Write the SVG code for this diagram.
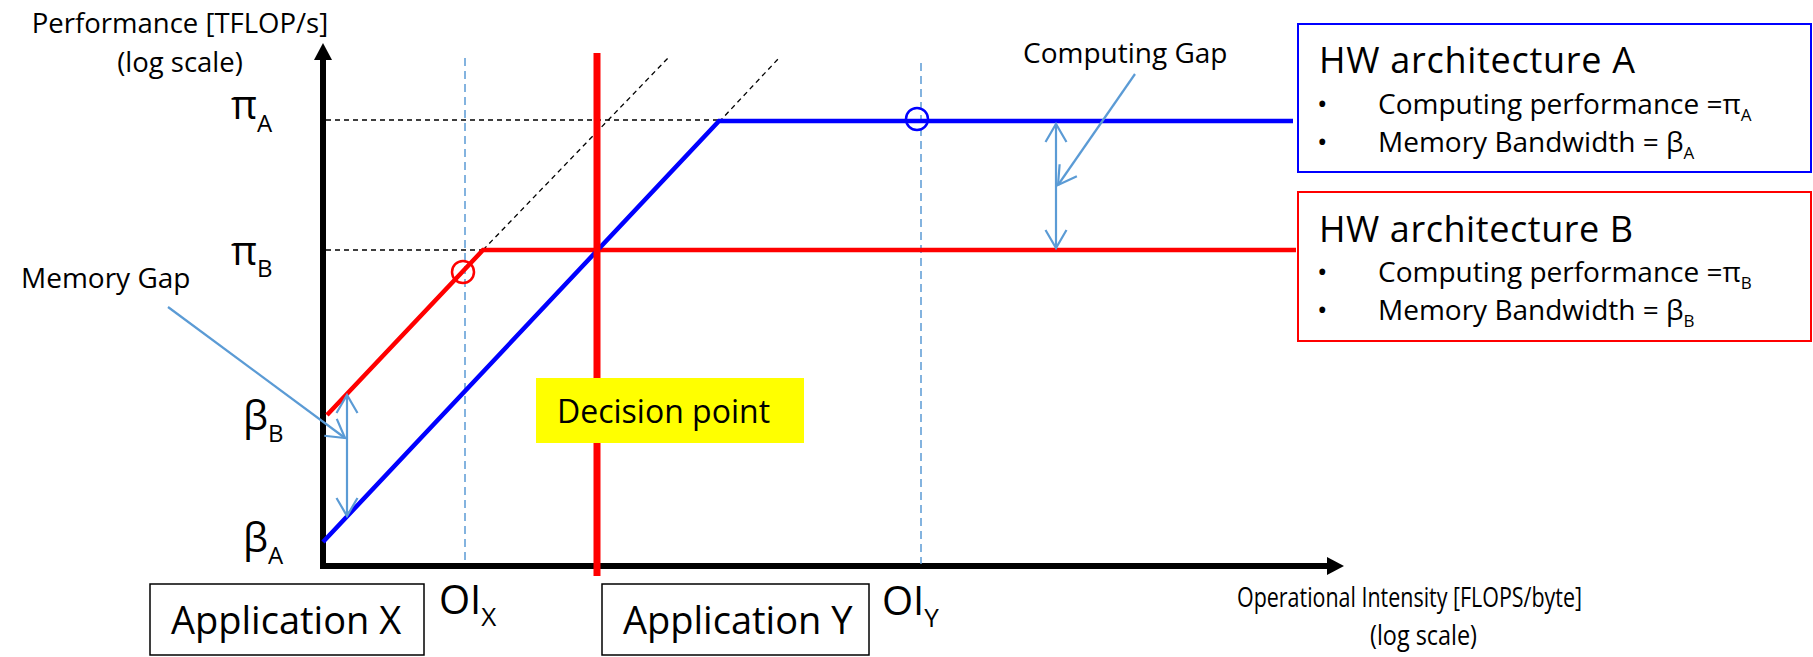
<svg xmlns="http://www.w3.org/2000/svg" width="1813" height="657" viewBox="0 0 1813 657">
  <style>
    text { font-family: "Open Sans", "Liberation Sans", sans-serif; fill: #000; }
    .axis { stroke: #000; stroke-width: 6; fill: none; }
    .guide { stroke: #000; stroke-width: 1.3; stroke-dasharray: 5 4; fill: none; }
    .oi { stroke: #5B9BD5; stroke-width: 1.5; stroke-dasharray: 8 5; fill: none; }
    .roofA { stroke: #0000FF; stroke-width: 4.5; fill: none; stroke-linejoin: miter; }
    .roofB { stroke: #FF0000; stroke-width: 4.5; fill: none; stroke-linejoin: miter; }
    .gap { stroke: #5B9BD5; stroke-width: 2.2; fill: none; }
    .box { fill: #fff; stroke: #000; stroke-width: 1.5; }
    .sym { font-size: 40px; }
    .sub { font-size: 24px; }
    .bsub { font-size: 17px; }
    .item { font-size: 28px; }
    .title { font-size: 36px; }
  </style>
  <defs>
    <marker id="open" markerUnits="userSpaceOnUse" markerWidth="26" markerHeight="26" viewBox="0 0 26 26" refX="21" refY="13" orient="auto-start-reverse">
      <path d="M3,2.5 L21,13 L3,23.5" fill="none" stroke="#5B9BD5" stroke-width="2.2"/>
    </marker>
  </defs>

  <!-- axes -->
  <g id="axes">
    <line class="axis" x1="323" y1="569" x2="323" y2="58"/>
    <polygon points="314,60 323,43 332,60" fill="#000"/>
    <line class="axis" x1="320" y1="566" x2="1329" y2="566"/>
    <polygon points="1327,557 1344,566 1327,575" fill="#000"/>
    <text x="180" y="33" font-size="27.5" text-anchor="middle">Performance [TFLOP/s]</text>
    <text x="180" y="72" font-size="27.5" text-anchor="middle">(log scale)</text>
    <text x="1237" y="607" font-size="28" textLength="345" lengthAdjust="spacingAndGlyphs">Operational Intensity [FLOPS/byte]</text>
    <text x="1370" y="645" font-size="28" textLength="107" lengthAdjust="spacingAndGlyphs">(log scale)</text>
  </g>

  <!-- tick symbols on the vertical axis -->
  <g id="y-ticks">
    <text class="sym" x="231" y="119">π<tspan class="sub" dy="13">A</tspan></text>
    <text class="sym" x="231" y="265">π<tspan class="sub" dy="12">B</tspan></text>
    <text class="sym" x="243" y="430">β<tspan class="sub" dy="12">B</tspan></text>
    <text class="sym" x="243" y="552">β<tspan class="sub" dy="12">A</tspan></text>
  </g>

  <!-- dashed guides -->
  <g id="guides">
    <line class="guide" x1="326" y1="120" x2="719" y2="120"/>
    <line class="guide" x1="326" y1="250" x2="483" y2="250"/>
    <line class="guide" x1="483" y1="250" x2="668" y2="58"/>
    <line class="guide" x1="719" y1="122" x2="779" y2="58"/>
    <line class="oi" x1="465" y1="58" x2="465" y2="564"/>
    <line class="oi" x1="921" y1="63" x2="921" y2="564"/>
  </g>

  <!-- roofline of architecture B -->
  <g id="roofline-b">
    <polyline class="roofB" points="327,415 483,250 1296,250"/>
    <circle cx="463" cy="272" r="11" fill="none" stroke="#FF0000" stroke-width="2.5"/>
  </g>

  <!-- roofline of architecture A -->
  <g id="roofline-a">
    <polyline class="roofA" points="323,542 719,121 1293,121"/>
    <circle cx="917" cy="119" r="11" fill="none" stroke="#0000FF" stroke-width="2.5"/>
  </g>

  <!-- decision threshold -->
  <g id="decision-line">
    <line x1="597" y1="53" x2="597" y2="576" stroke="#FF0000" stroke-width="7"/>
  </g>

  <g id="decision-point">
    <rect x="536" y="378" width="268" height="65" fill="#FFFF00"/>
    <text x="557" y="423" font-size="32">Decision point</text>
  </g>

  <!-- gap annotations -->
  <g id="connectors">
    <line class="gap" x1="347" y1="395" x2="347" y2="516" marker-start="url(#open)" marker-end="url(#open)"/>
    <line class="gap" x1="168" y1="307" x2="345" y2="438" marker-end="url(#open)"/>
    <line class="gap" x1="1056" y1="124" x2="1056" y2="248" marker-start="url(#open)" marker-end="url(#open)"/>
    <line class="gap" x1="1135" y1="74" x2="1058" y2="185" marker-end="url(#open)"/>
  </g>

  <g id="memory-gap-label">
    <text x="21" y="288" font-size="28">Memory Gap</text>
  </g>
  <g id="computing-gap-label">
    <text x="1023" y="63" font-size="28">Computing Gap</text>
  </g>

  <!-- operational intensity markers -->
  <g id="oi-x">
    <text x="439" y="614" font-size="40">OI<tspan font-size="26" dy="12">X</tspan></text>
  </g>
  <g id="oi-y">
    <text x="882" y="615" font-size="40">OI<tspan font-size="26" dy="12">Y</tspan></text>
  </g>

  <!-- applications -->
  <g id="application-x">
    <rect class="box" x="150" y="584" width="274" height="71"/>
    <text x="171" y="634" font-size="38">Application X</text>
  </g>
  <g id="application-y">
    <rect class="box" x="602" y="584" width="267" height="71"/>
    <text x="623" y="634" font-size="38">Application Y</text>
  </g>

  <!-- hardware descriptions -->
  <g id="hw-a">
    <rect x="1298" y="24" width="513" height="148" fill="#fff" stroke="#0000FF" stroke-width="2"/>
    <text class="title" x="1319" y="73" textLength="316">HW architecture A</text>
    <text class="item" x="1317" y="114">•</text>
    <text class="item" x="1378" y="114">Computing performance =π<tspan class="bsub" dy="7">A</tspan></text>
    <text class="item" x="1317" y="152">•</text>
    <text class="item" x="1378" y="152">Memory Bandwidth = β<tspan class="bsub" dy="7">A</tspan></text>
  </g>
  <g id="hw-b">
    <rect x="1298" y="192" width="513" height="149" fill="#fff" stroke="#FF0000" stroke-width="2"/>
    <text class="title" x="1319" y="242" textLength="314">HW architecture B</text>
    <text class="item" x="1317" y="282">•</text>
    <text class="item" x="1378" y="282">Computing performance =π<tspan class="bsub" dy="7">B</tspan></text>
    <text class="item" x="1317" y="320">•</text>
    <text class="item" x="1378" y="320">Memory Bandwidth = β<tspan class="bsub" dy="7">B</tspan></text>
  </g>
</svg>
